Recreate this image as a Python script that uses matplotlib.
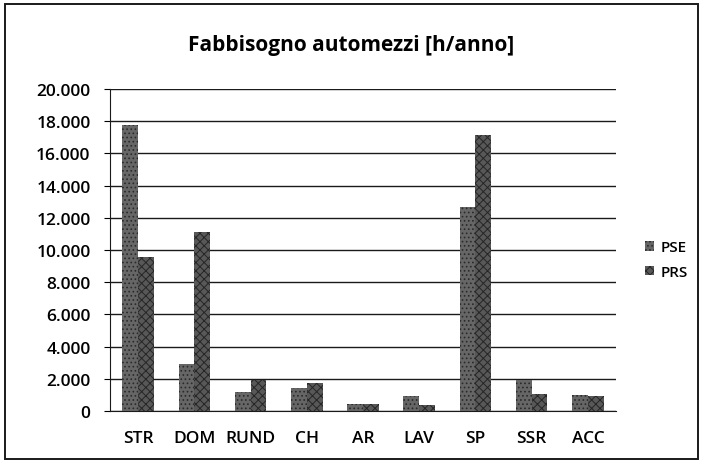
import matplotlib.pyplot as plt
import numpy as np
from matplotlib.patches import Rectangle
from matplotlib.ticker import FuncFormatter, MultipleLocator

categories = ["STR", "DOM", "RUND", "CH", "AR", "LAV", "SP", "SSR", "ACC"]
pse = [17750, 2950, 1150, 1400, 450, 950, 12650, 1950, 1000]
prs = [9550, 11100, 1900, 1750, 450, 400, 17150, 1050, 950]

plt.rcParams["font.family"] = ["Open Sans", "DejaVu Sans"]
plt.rcParams["hatch.linewidth"] = 0.7

fig = plt.figure(figsize=(7.02, 4.64), dpi=100)
ax = fig.add_axes([110 / 702, 1 - 412 / 464, 506 / 702, 322 / 464])

x = np.arange(len(categories))
w = 0.28
ax.bar(x - w / 2, pse, w, color="#666666", edgecolor="#2a2a2a",
       hatch="....", linewidth=0, zorder=3, label="PSE")
ax.bar(x + w / 2, prs, w, color="#585858", edgecolor="#262626",
       hatch="xxxx", linewidth=0, zorder=3, label="PRS")

ax.set_xlim(-0.5, len(categories) - 0.5)
ax.set_ylim(0, 20000)
ax.yaxis.set_major_locator(MultipleLocator(2000))
ax.yaxis.set_major_formatter(
    FuncFormatter(lambda v, _: f"{int(v):,}".replace(",", "."))
)
ax.grid(True, axis="y", color="#1a1a1a", linewidth=1.0, zorder=0)
ax.set_xticks(x)
ax.set_xticklabels(categories)
ax.tick_params(axis="x", length=0, pad=14, labelsize=12.5)
ax.tick_params(axis="y", length=4, direction="out", pad=10, labelsize=12.5)
for lbl in ax.get_xticklabels() + ax.get_yticklabels():
    lbl.set_fontweight("semibold")
for side in ("top", "right"):
    ax.spines[side].set_visible(False)
ax.spines["left"].set_color("#1a1a1a")
ax.spines["bottom"].set_color("#1a1a1a")

fig.text(0.5, 1 - 45 / 464, "Fabbisogno automezzi [h/anno]",
         ha="center", va="center", fontsize=15, fontweight="bold")

leg = ax.legend(loc="center left", bbox_to_anchor=(1.03, 0.47), frameon=False,
                fontsize=11, handlelength=0.6, handleheight=0.6,
                handletextpad=0.4, labelspacing=0.7)
for t in leg.get_texts():
    t.set_fontweight("semibold")

# outer chart frame
fig.patches.append(Rectangle((0.007, 0.008), 0.988, 0.982, transform=fig.transFigure,
                             fill=False, edgecolor="#1a1a1a", linewidth=1.4))

fig.savefig("out.png", dpi=100)
